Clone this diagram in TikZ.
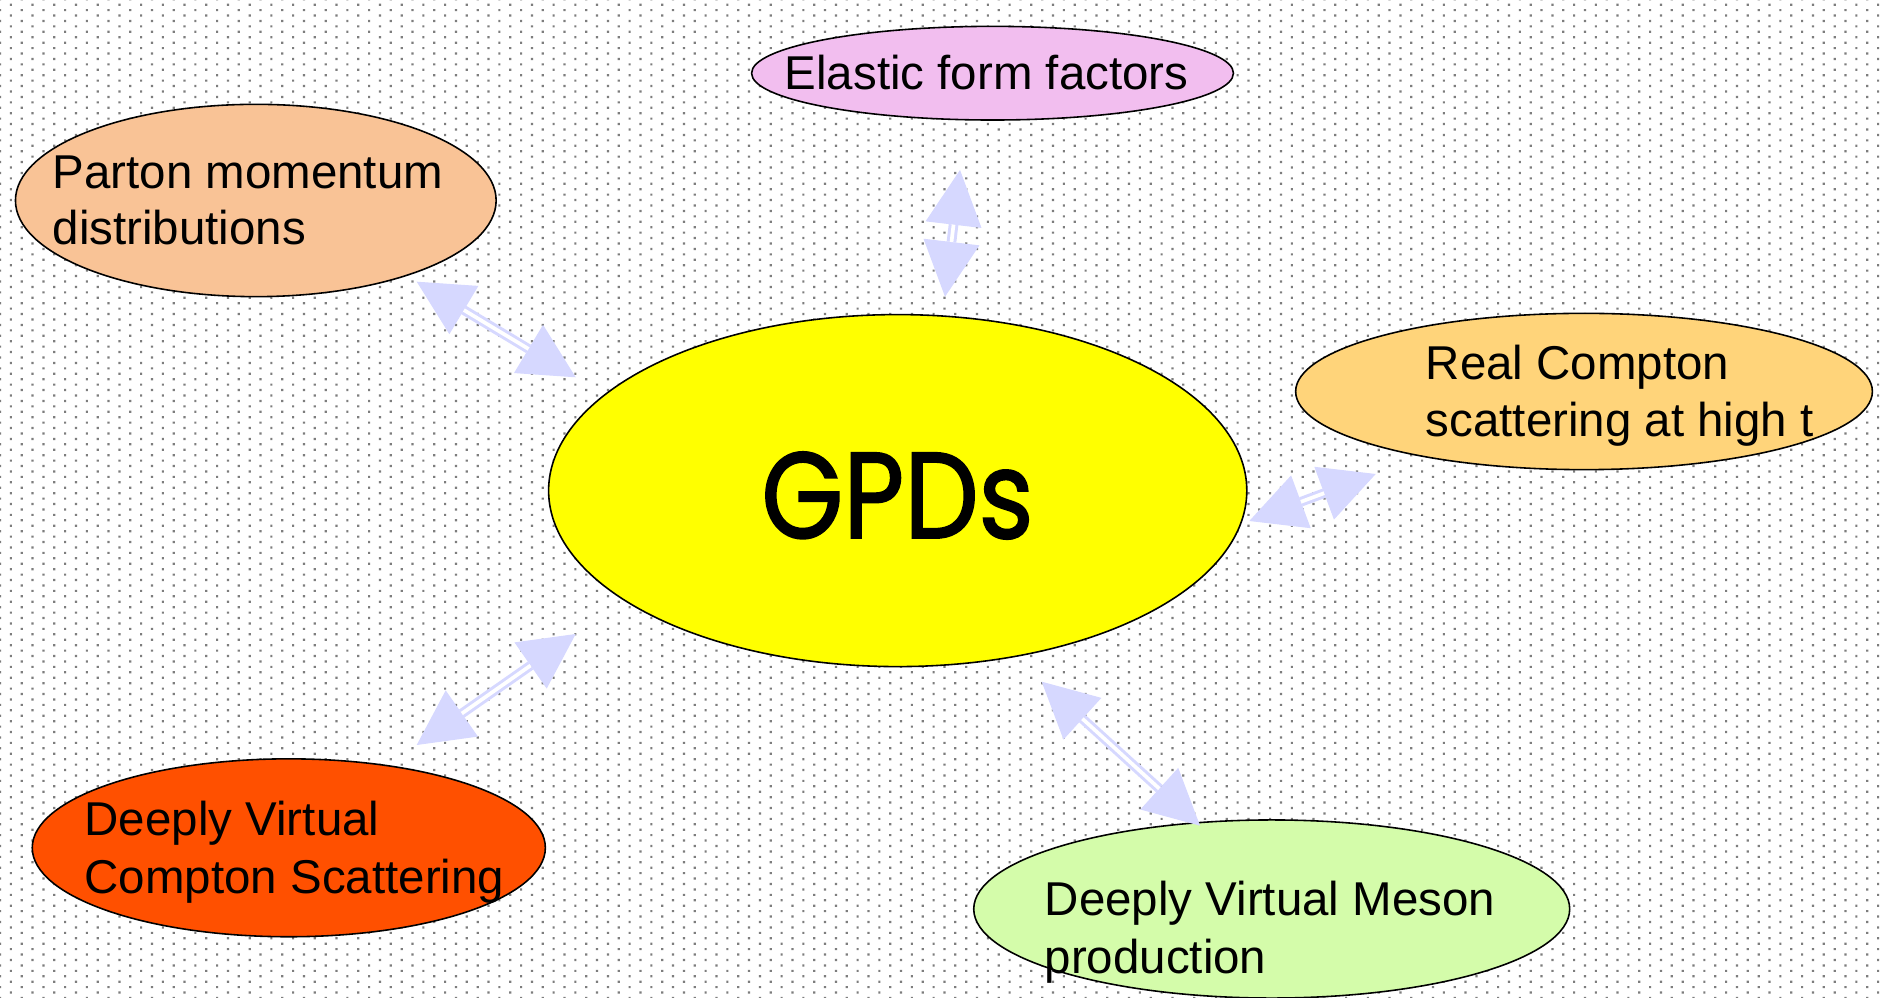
\documentclass[tikz,border=0pt]{standalone}
\usepackage{fontspec}
\setmainfont{Liberation Sans}
\newfontfamily\gpdfont[FakeBold=1.6]{Poppins}
\usetikzlibrary{shapes.geometric,arrows.meta,patterns}
\definecolor{dotgray}{RGB}{125,125,125}
\definecolor{arrowc}{RGB}{214,216,255}
\definecolor{gpdyellow}{RGB}{255,255,0}
\definecolor{elasticc}{RGB}{242,190,239}
\definecolor{partonc}{RGB}{249,195,150}
\definecolor{rcsc}{RGB}{255,212,122}
\definecolor{dvcsc}{RGB}{255,80,0}
\definecolor{dvmpc}{RGB}{212,252,170}
\pgfdeclarepatternformonly{dotgrid}{\pgfqpoint{-0.5pt}{-0.5pt}}{\pgfqpoint{3.6pt}{2.1pt}}{\pgfqpoint{6.174pt}{3.087pt}}{%
  \pgfpathrectangle{\pgfqpoint{-0.31pt}{-0.31pt}}{\pgfqpoint{0.62pt}{0.62pt}}%
  \pgfpathrectangle{\pgfqpoint{2.777pt}{1.233pt}}{\pgfqpoint{0.62pt}{0.62pt}}%
  \pgfusepath{fill}}
\tikzset{
  bubble/.style={ellipse, draw=black, line width=0.45pt, inner sep=0pt},
  lbl/.style={font=\fontsize{13.5pt}{16pt}\selectfont, anchor=base west, inner sep=0pt},
  headline/.style={draw=arrowc, line width=0.3pt,
    {Triangle[length=0.55cm,width=0.56cm]}-{Triangle[length=0.55cm,width=0.56cm]}},
  shaft/.style={draw=arrowc, line width=0.85pt, double=white, double distance=1.05pt,
    shorten <=0.55cm, shorten >=0.55cm},
}
\begin{document}
\begin{tikzpicture}[x=0.01cm,y=-0.01cm]
\useasboundingbox (0,0) rectangle (1883,998);
\fill[white] (0,0) rectangle (1883,998);
\fill[pattern=dotgrid, pattern color=dotgray] (0,0) rectangle (1883,998);

% ellipses
\node[bubble, fill=gpdyellow, minimum width=6.978cm, minimum height=3.518cm] (gpd) at (897.7,490.6) {};
\node[bubble, fill=elasticc, minimum width=4.816cm, minimum height=0.936cm] (elastic) at (992.5,73.2) {};
\node[bubble, fill=partonc, minimum width=4.804cm, minimum height=1.922cm] (parton) at (255.8,200.5) {};
\node[bubble, fill=rcsc, minimum width=5.764cm, minimum height=1.562cm] (rcs) at (1584,391.5) {};
\node[bubble, fill=dvcsc, minimum width=5.128cm, minimum height=1.778cm] (dvcs) at (288.8,847.8) {};
\node[bubble, fill=dvmpc, minimum width=5.956cm, minimum height=1.78cm] (dvmp) at (1271.7,909) {};

% texts
\node[anchor=base, inner sep=0pt] (gpdT) at (897.5,538) {\resizebox{2.72cm}{0.86cm}{\gpdfont GPDs}};
\node[lbl] (elasticT) at (784,90) {Elastic form factors};
\node[lbl] (partonA) at (52,189) {Parton momentum};
\node[lbl] (partonB) at (52,245) {distributions};
\node[lbl] (rcsA) at (1425,380) {Real Compton};
\node[lbl] (rcsB) at (1425,437) {scattering at high t};
\node[lbl] (dvcsA) at (84,835) {Deeply Virtual};
\node[lbl] (dvcsB) at (84,893) {Compton Scattering};
\node[lbl] (dvmpA) at (1044,915) {Deeply Virtual Meson};
\node[lbl] (dvmpB) at (1044,973) {production};

% arrow end points
\coordinate (a1s) at (416.7,281.7);  \coordinate (a1e) at (575.7,377.3);
\coordinate (a2s) at (960,170);      \coordinate (a2e) at (945,296.7);
\coordinate (a3s) at (1249.3,521);   \coordinate (a3e) at (1375.7,474);
\coordinate (a4s) at (416.7,745);    \coordinate (a4e) at (575.7,634);
\coordinate (a5s) at (1041.7,681.7); \coordinate (a5e) at (1200,825.7);

\foreach \k in {1,...,5}{
  \draw[headline] (a\k s) -- (a\k e);
  \draw[shaft] (a\k s) -- (a\k e);
}
\end{tikzpicture}
\end{document}
